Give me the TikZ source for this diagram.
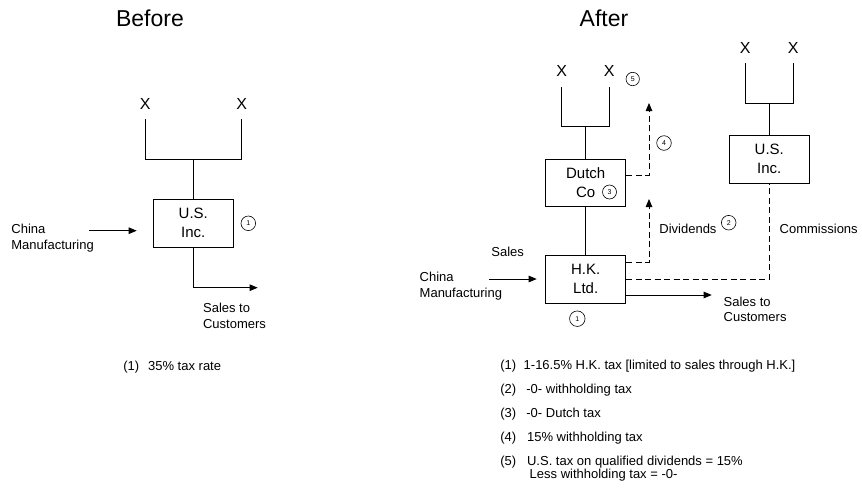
\documentclass[tikz,border=0pt]{standalone}
\usepackage{fontspec}
\setmainfont{Liberation Sans}
\usetikzlibrary{arrows.meta}
\begin{document}
\begin{tikzpicture}[x=1pt,y=-1pt,
  line width=0.8pt,
  ent/.style={draw, minimum width=80.6pt, minimum height=48.3pt, inner sep=0pt, align=center, font=\fontsize{15}{19}\selectfont},
  xlab/.style={inner sep=0pt, font=\fontsize{16}{19}\selectfont},
  ttl/.style={inner sep=0pt, font=\fontsize{23}{27}\selectfont},
  lbl/.style={inner sep=0pt, anchor=base west, font=\fontsize{13}{16}\selectfont},
  num/.style={draw, circle, inner sep=0pt, minimum size=14.6pt, line width=0.6pt, font=\fontsize{7}{8}\selectfont},
  arr/.style={-{Triangle[length=8pt,width=6.5pt]}},
  dashline/.style={dash pattern=on 6pt off 3.5pt},
]
\fill[white] (0,0) rectangle (862,488);
\useasboundingbox (0,0) rectangle (862,488);

% ---------------- Before ----------------
\node[ttl] (tbefore) at (150,18.3) {Before};
\node[xlab] (bxl) at (145.3,104) {X};
\node[xlab] (bxr) at (241.7,104) {X};
\coordinate (bxlb) at (145.3,119.3);
\coordinate (bxrb) at (241.7,119.3);
\coordinate (bjn) at (193.3,159.3);
\node[ent] (bus) at (193.3,223.2) {U.S.\\Inc.};
\draw (bxlb) |- (bjn) -| (bxrb);
\draw (bjn) -- (bus.north);
\node[num] (bn1) at (248.3,223.3) {1};
\node[lbl] (bch1) at (11,233.3) {China};
\node[lbl] (bch2) at (11,249) {Manufacturing};
\coordinate (bchs) at (89.3,230.7);
\coordinate (bche) at (136.7,230.7);
\draw[arr] (bchs) -- (bche);
\coordinate (bsend) at (257.7,287.7);
\draw[arr] (bus.south) |- (bsend);
\node[lbl] (bst1) at (202.7,312.7) {Sales to};
\node[lbl] (bst2) at (202.7,328.7) {Customers};
\node[lbl] (bnote1) at (123,370.5) {(1)};
\node[lbl] (bnote1t) at (147.7,370.5) {35\% tax rate};

% ---------------- After ----------------
\node[ttl] (tafter) at (604,18.3) {After};
\node[xlab] (axl) at (561.7,71) {X};
\node[xlab] (axr) at (609.3,71) {X};
\coordinate (axlb) at (561.7,87.3);
\coordinate (axrb) at (609.3,87.3);
\coordinate (ajn) at (585.7,126.7);
\node[num, minimum size=13.4pt] (an5) at (632.7,79) {5};
\node[ent, minimum width=80pt, minimum height=47.5pt] (dutch) at (585.7,182.8) {Dutch\\Co};
\draw (axlb) |- (ajn) -| (axrb);
\draw (ajn) -- (dutch.north);
\node[num, minimum size=14pt] (an3) at (609.5,192) {3};
\node[ent, minimum width=80pt, minimum height=48pt] (hk) at (585.7,279) {H.K.\\Ltd.};
\draw (dutch.south) -- (hk.north);
\node[num, minimum size=15.5pt] (an1) at (577.3,318.7) {1};
\node[lbl] (asales) at (491,256.7) {Sales};
\node[lbl] (ach1) at (419.3,281.7) {China};
\node[lbl] (ach2) at (419.3,297) {Manufacturing};
\coordinate (achs) at (489.3,279);
\coordinate (ache) at (536.7,279);
\draw[arr] (achs) -- (ache);

% dividends and withholding
\coordinate (divtip) at (649,199);
\draw[dashline, arr] (hk.east |- 0,262.5) -| (divtip);
\coordinate (whtip) at (649,103);
\draw[dashline, arr] (dutch.east |- 0,175) -| (whtip);
\node[num] (an4) at (664,143) {4};
\node[lbl] (adiv) at (659,233.3) {Dividends};
\node[num] (an2) at (728.7,222.7) {2};

% U.S. Inc after
\node[xlab] (uxl) at (745.3,48.3) {X};
\node[xlab] (uxr) at (793.3,48.3) {X};
\coordinate (uxlb) at (745.3,63.3);
\coordinate (uxrb) at (793.3,63.3);
\coordinate (ujn) at (769.3,103.3);
\node[ent, minimum width=80pt, minimum height=48pt] (ausa) at (769.3,159) {U.S.\\Inc.};
\draw (uxlb) |- (ujn) -| (uxrb);
\draw (ujn) -- (ausa.north);
\draw[dashline] (hk.east) -| (ausa.south);
\node[lbl] (acomm) at (779.3,233.3) {Commissions};

% sales to customers
\coordinate (asend) at (711.7,295);
\draw[arr] (hk.east |- 0,295) -- (asend);
\node[lbl] (ast1) at (723.3,306) {Sales to};
\node[lbl] (ast2) at (723.3,321.3) {Customers};

% notes
\node[lbl] (n1) at (500,369.6) {(1)};
\node[lbl] (n1t) at (523.3,369.6) {1-16.5\% H.K. tax [limited to sales through H.K.]};
\node[lbl] (n2) at (500,393.6) {(2)};
\node[lbl] (n2t) at (526,393.6) {-0- withholding tax};
\node[lbl] (n3) at (500,417.3) {(3)};
\node[lbl] (n3t) at (526,417.3) {-0- Dutch tax};
\node[lbl] (n4) at (500,441.3) {(4)};
\node[lbl] (n4t) at (526.7,441.3) {15\% withholding tax};
\node[lbl] (n5) at (500,465.3) {(5)};
\node[lbl] (n5t) at (526.7,465.3) {U.S. tax on qualified dividends = 15\%};
\node[lbl] (n5u) at (529.3,478.9) {Less withholding tax = -0-};
\end{tikzpicture}
\end{document}
